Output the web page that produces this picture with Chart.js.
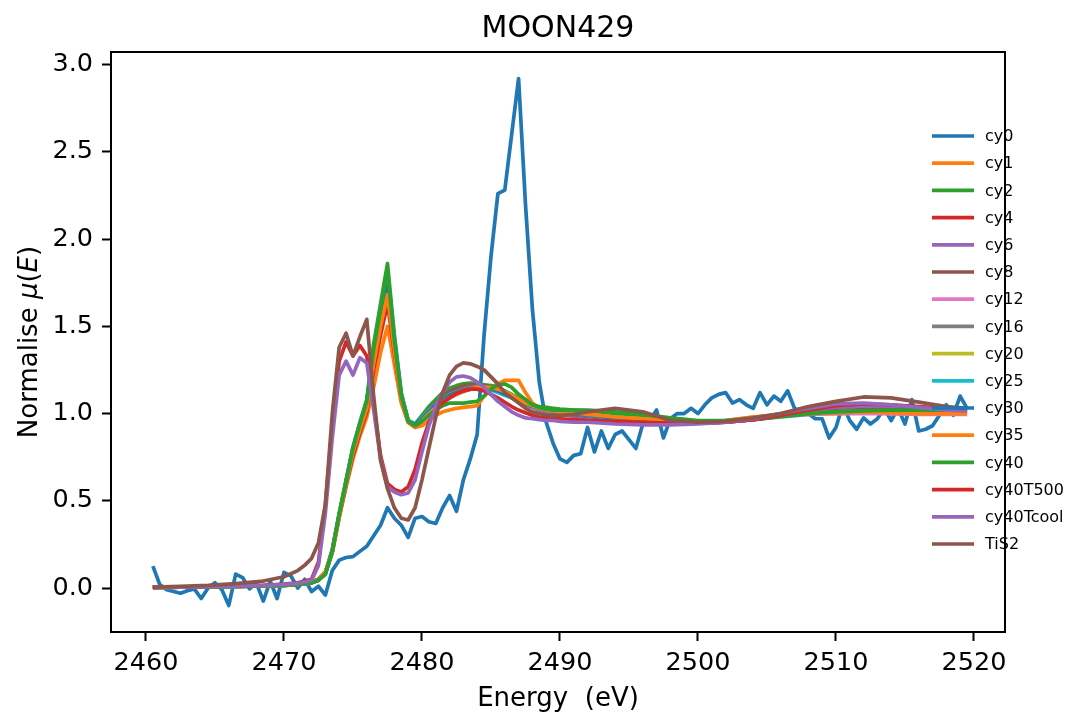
<!DOCTYPE html>
<html><head><meta charset="utf-8">
<script src="https://cdn.jsdelivr.net/npm/chart.js@4.4.1/dist/chart.umd.min.js"></script>
<style>html,body{margin:0;padding:0;background:#fff;} canvas{display:block;}</style>
</head><body>
<canvas id="c" width="1081" height="714"></canvas>
<script>
// ---------- DATA ----------
const chartTitle = 'MOON429';
const xAxisTitle = 'Energy  (eV)';
const xTickValues = [2460, 2470, 2480, 2490, 2500, 2510, 2520];
const yTickValues = [0.0, 0.5, 1.0, 1.5, 2.0, 2.5, 3.0];
const seriesNames = ['cy0','cy1','cy2','cy4','cy6','cy8','cy12','cy16','cy20','cy25','cy30','cy35','cy40','cy40T500','cy40Tcool','TiS2'];
const seriesColors = ['#1f77b4','#ff7f0e','#2ca02c','#d62728','#9467bd','#8c564b','#e377c2','#7f7f7f','#bcbd22','#17becf','#1f77b4','#ff7f0e','#2ca02c','#d62728','#9467bd','#8c564b'];

// fine energy grid (cy0)
const energyFine = [2460.5,2461,2461.5,2462,2462.5,2463,2463.5,2464,2464.5,2465,2465.5,2466,2466.5,2467,2467.5,2468,2468.5,2469,2469.5,2470,
2470.5,2471,2471.5,2472,2472.5,2473,2473.5,2474,2474.5,2475,2475.5,2476,2476.5,2477,2477.5,2478,2478.5,2479,2479.5,2480,
2480.5,2481,2481.5,2482,2482.5,2483,2483.5,2484,2484.5,2485,2485.5,2486,2486.5,2487,2487.5,2488,2488.5,2489,2489.5,2490,
2490.5,2491,2491.5,2492,2492.5,2493,2493.5,2494,2494.5,2495,2495.5,2496,2496.5,2497,2497.5,2498,2498.5,2499,2499.5,2500,
2500.5,2501,2501.5,2502,2502.5,2503,2503.5,2504,2504.5,2505,2505.5,2506,2506.5,2507,2507.5,2508,2508.5,2509,2509.5,2510,
2510.5,2511,2511.5,2512,2512.5,2513,2513.5,2514,2514.5,2515,2515.5,2516,2516.5,2517,2517.5,2518,2518.5,2519,2519.5];

// energy grid shared by the smooth spectra
const energySmooth = [2460.5,2462.5,2464.5,2466.5,2468.5,2470,2471,2471.5,2472,2472.5,2473,2473.5,2474,2474.5,2475,2475.5,2476,2476.5,2477,2477.5,
2478,2478.5,2479,2479.5,2480,2480.5,2481,2481.5,2482,2482.5,2483,2483.5,2484,2484.5,2485,2485.5,2486,2486.5,2487,2487.5,
2488,2488.5,2489,2489.5,2490,2491,2492,2494,2496,2498,2500,2502,2504,2506,2508,2510,2512,2514,2516,2518,2519.5];

const cy0 = [0.126,0.02,-0.01,-0.02,-0.03,-0.015,-0.005,-0.06,0.0,0.03,-0.01,-0.10,0.08,0.06,-0.005,0.03,-0.075,0.04,-0.06,0.09,
0.07,0.0,0.05,-0.02,0.01,-0.04,0.10,0.16,0.175,0.18,0.21,0.24,0.30,0.36,0.46,0.40,0.36,0.29,0.40,0.41,
0.38,0.37,0.46,0.53,0.44,0.62,0.74,0.88,1.45,1.90,2.26,2.28,2.60,2.92,2.20,1.60,1.18,0.95,0.83,0.74,
0.72,0.76,0.77,0.92,0.78,0.90,0.80,0.88,0.90,0.85,0.80,0.94,0.96,1.02,0.86,0.97,1.0,1.0,1.03,1.0,
1.05,1.09,1.11,1.12,1.06,1.08,1.05,1.03,1.12,1.05,1.10,1.07,1.13,1.03,1.0,1.0,0.97,0.97,0.86,0.92,
1.05,0.96,0.91,0.975,0.94,0.97,1.03,0.96,1.03,0.94,1.08,0.90,0.91,0.93,0.99,1.05,0.99,1.10,1.03];

const cy1 = [0.005,0.006,0.008,0.01,0.013,0.017,0.022,0.027,0.034,0.05,0.09,0.20,0.40,0.58,0.74,0.87,0.98,1.15,1.35,1.50,
1.28,1.06,0.95,0.92,0.93,0.96,0.99,1.01,1.02,1.03,1.035,1.04,1.045,1.10,1.15,1.17,1.19,1.19,1.19,1.12,
1.06,1.03,1.015,1.01,1.0,1.0,0.99,0.98,0.97,0.955,0.95,0.96,0.98,0.99,1.0,1.0,1.005,1.0,1.0,1.0,1.0];
const cy2 = [0.004,0.005,0.007,0.009,0.012,0.015,0.02,0.025,0.03,0.045,0.08,0.22,0.43,0.62,0.81,0.95,1.08,1.40,1.63,1.86,
1.45,1.12,0.96,0.94,0.99,1.04,1.08,1.12,1.145,1.16,1.17,1.175,1.17,1.165,1.16,1.15,1.13,1.11,1.09,1.07,
1.05,1.04,1.035,1.03,1.025,1.02,1.015,1.0,0.98,0.965,0.955,0.955,0.965,0.98,0.995,1.01,1.015,1.015,1.015,1.015,1.015];
const cy4 = [0.004,0.005,0.007,0.009,0.012,0.016,0.021,0.026,0.032,0.05,0.09,0.21,0.41,0.59,0.76,0.89,1.01,1.25,1.45,1.63,
1.35,1.08,0.95,0.925,0.96,1.0,1.04,1.07,1.09,1.11,1.13,1.14,1.15,1.155,1.15,1.14,1.12,1.10,1.08,1.06,
1.04,1.025,1.015,1.01,1.0,0.99,0.98,0.965,0.955,0.95,0.945,0.95,0.965,0.985,1.005,1.02,1.03,1.03,1.025,1.02,1.02];
const cy6 = [0.004,0.005,0.007,0.009,0.012,0.016,0.02,0.025,0.03,0.048,0.085,0.21,0.42,0.60,0.78,0.91,1.04,1.30,1.52,1.70,
1.38,1.09,0.955,0.93,0.97,1.02,1.06,1.09,1.12,1.14,1.155,1.16,1.16,1.155,1.145,1.13,1.11,1.09,1.07,1.05,
1.035,1.02,1.01,1.0,0.995,0.985,0.975,0.96,0.95,0.945,0.945,0.95,0.965,0.99,1.01,1.03,1.04,1.04,1.03,1.02,1.02];
const cy8 = [0.005,0.006,0.008,0.01,0.013,0.017,0.022,0.027,0.033,0.05,0.09,0.22,0.42,0.61,0.79,0.92,1.05,1.32,1.55,1.72,
1.40,1.10,0.96,0.935,0.975,1.02,1.06,1.10,1.125,1.145,1.16,1.165,1.165,1.16,1.15,1.135,1.115,1.095,1.075,1.055,
1.04,1.03,1.02,1.01,1.005,0.995,0.985,0.97,0.96,0.95,0.945,0.95,0.965,0.985,1.0,1.015,1.02,1.02,1.02,1.015,1.015];
const cy12 = [0.004,0.005,0.007,0.009,0.012,0.015,0.02,0.025,0.03,0.046,0.085,0.21,0.42,0.61,0.79,0.93,1.06,1.33,1.56,1.74,
1.41,1.10,0.955,0.935,0.97,1.01,1.05,1.08,1.105,1.12,1.135,1.145,1.15,1.15,1.145,1.135,1.12,1.10,1.08,1.06,
1.045,1.03,1.02,1.015,1.01,1.0,0.99,0.975,0.965,0.955,0.95,0.955,0.97,0.985,0.995,1.0,1.0,1.0,0.995,0.995,0.995];
const cy16 = [0.004,0.005,0.007,0.009,0.012,0.015,0.02,0.025,0.03,0.046,0.082,0.21,0.42,0.61,0.80,0.94,1.07,1.35,1.58,1.77,
1.42,1.11,0.96,0.935,0.975,1.02,1.055,1.085,1.11,1.125,1.14,1.15,1.155,1.15,1.145,1.13,1.115,1.095,1.075,1.055,
1.04,1.03,1.02,1.015,1.01,1.0,0.99,0.975,0.965,0.955,0.95,0.955,0.97,0.985,1.0,1.005,1.01,1.01,1.005,1.005,1.005];
const cy20 = [0.004,0.005,0.007,0.009,0.012,0.015,0.02,0.025,0.03,0.046,0.083,0.21,0.42,0.61,0.80,0.94,1.07,1.34,1.57,1.75,
1.41,1.10,0.955,0.93,0.97,1.01,1.05,1.08,1.10,1.12,1.135,1.145,1.15,1.15,1.14,1.13,1.11,1.09,1.075,1.055,
1.04,1.03,1.02,1.015,1.01,1.005,0.995,0.98,0.97,0.96,0.955,0.96,0.975,0.99,1.0,1.01,1.015,1.015,1.01,1.01,1.01];
const cy25 = [0.004,0.005,0.007,0.009,0.012,0.015,0.02,0.025,0.03,0.046,0.082,0.21,0.42,0.61,0.80,0.94,1.07,1.36,1.60,1.79,
1.43,1.11,0.96,0.935,0.975,1.015,1.05,1.08,1.105,1.12,1.13,1.14,1.145,1.14,1.135,1.12,1.105,1.09,1.07,1.055,
1.04,1.03,1.02,1.015,1.01,1.0,0.99,0.975,0.965,0.955,0.95,0.955,0.97,0.985,1.0,1.01,1.015,1.015,1.01,1.01,1.01];
const cy30 = [0.004,0.005,0.007,0.009,0.012,0.015,0.02,0.025,0.03,0.046,0.083,0.21,0.42,0.61,0.80,0.94,1.07,1.35,1.58,1.76,
1.42,1.10,0.955,0.935,0.97,1.01,1.05,1.08,1.105,1.12,1.135,1.145,1.15,1.145,1.14,1.13,1.11,1.095,1.075,1.055,
1.04,1.03,1.02,1.015,1.01,1.0,0.99,0.975,0.965,0.955,0.95,0.955,0.97,0.985,1.0,1.01,1.015,1.015,1.01,1.01,1.01];
const cy35 = [0.004,0.005,0.007,0.009,0.012,0.016,0.021,0.026,0.032,0.048,0.088,0.21,0.41,0.60,0.78,0.91,1.03,1.29,1.50,1.68,
1.37,1.08,0.95,0.925,0.96,1.0,1.035,1.065,1.09,1.11,1.125,1.14,1.15,1.15,1.15,1.14,1.125,1.105,1.085,1.06,
1.045,1.03,1.02,1.015,1.01,1.005,0.995,0.98,0.97,0.96,0.955,0.96,0.98,0.995,1.0,1.005,1.01,1.005,1.0,1.0,1.0];
const cy40 = [0.004,0.005,0.007,0.009,0.012,0.015,0.02,0.025,0.03,0.045,0.08,0.21,0.42,0.61,0.80,0.94,1.07,1.37,1.60,1.82,
1.42,1.10,0.955,0.93,0.955,0.99,1.02,1.045,1.06,1.06,1.06,1.065,1.07,1.10,1.14,1.165,1.17,1.15,1.11,1.08,
1.05,1.035,1.025,1.02,1.02,1.02,1.02,1.01,0.995,0.975,0.96,0.96,0.97,0.985,1.0,1.01,1.015,1.02,1.02,1.02,1.02];
const cy40T500 = [0.004,0.006,0.009,0.012,0.016,0.022,0.03,0.04,0.05,0.15,0.48,0.93,1.30,1.41,1.33,1.39,1.33,1.05,0.76,0.60,
0.565,0.55,0.58,0.68,0.83,0.95,1.02,1.06,1.09,1.115,1.13,1.14,1.14,1.13,1.11,1.09,1.065,1.04,1.02,1.005,
0.99,0.98,0.975,0.97,0.97,0.965,0.96,0.955,0.95,0.945,0.945,0.95,0.965,0.99,1.02,1.045,1.055,1.05,1.04,1.03,1.03];
const cy40Tcool = [0.004,0.005,0.008,0.011,0.015,0.02,0.027,0.035,0.045,0.13,0.43,0.86,1.22,1.30,1.22,1.32,1.29,1.02,0.74,0.58,
0.55,0.535,0.545,0.62,0.78,0.93,1.04,1.12,1.18,1.21,1.215,1.205,1.18,1.15,1.11,1.07,1.04,1.01,0.99,0.975,
0.97,0.965,0.96,0.96,0.955,0.95,0.95,0.94,0.935,0.935,0.94,0.95,0.97,1.0,1.03,1.055,1.06,1.05,1.035,1.02,1.015];
const TiS2 = [0.005,0.01,0.015,0.025,0.04,0.065,0.10,0.13,0.17,0.26,0.48,1.0,1.38,1.46,1.33,1.44,1.54,1.10,0.73,0.57,
0.46,0.40,0.39,0.46,0.62,0.80,0.98,1.12,1.22,1.27,1.29,1.285,1.27,1.25,1.21,1.17,1.12,1.09,1.06,1.03,
1.01,1.0,0.99,0.99,0.99,0.995,1.01,1.03,1.01,0.96,0.95,0.955,0.975,1.0,1.04,1.07,1.095,1.09,1.065,1.04,1.03];

const seriesValues = [cy0,cy1,cy2,cy4,cy6,cy8,cy12,cy16,cy20,cy25,cy30,cy35,cy40,cy40T500,cy40Tcool,TiS2];
const seriesEnergy = [energyFine].concat(new Array(15).fill(energySmooth));

// ---------- CHART ----------
const FONT = "'DejaVu Sans', 'Liberation Sans', sans-serif";
const N = seriesNames.length;
const LW = 3.7;
const datasets = seriesNames.map((name, i) => ({
  label: name,
  data: seriesValues[i].map((v, j) => ({x: seriesEnergy[i][j], y: v})),
  borderColor: seriesColors[i],
  backgroundColor: seriesColors[i],
  borderWidth: LW,
  borderJoinStyle: 'round',
  borderCapStyle: 'butt',
  pointRadius: 0,
  tension: 0,
  fill: false,
  order: N - i
}));

const decorPlugin = {
  id: 'decor',
  afterDraw(chart) {
    const ctx = chart.ctx;
    const a = chart.chartArea;
    ctx.save();
    // legend (no frame)
    ctx.font = '16px ' + FONT;
    ctx.textBaseline = 'middle';
    ctx.textAlign = 'left';
    for (let i = 0; i < N; i++) {
      const y = 136 + 27.2 * i;
      ctx.strokeStyle = seriesColors[i];
      ctx.lineWidth = LW;
      ctx.beginPath(); ctx.moveTo(932, y); ctx.lineTo(974, y); ctx.stroke();
      ctx.fillStyle = '#000';
      ctx.fillText(seriesNames[i], 985, y + 1);
    }
    // frame
    ctx.strokeStyle = '#000';
    ctx.lineWidth = 2;
    ctx.strokeRect(a.left, a.top, a.right - a.left, a.bottom - a.top);
    // title
    ctx.fillStyle = '#000';
    ctx.textAlign = 'center';
    ctx.textBaseline = 'alphabetic';
    ctx.font = '30px ' + FONT;
    ctx.fillText(chartTitle, (a.left + a.right) / 2, 37);
    // x title
    ctx.font = '26px ' + FONT;
    ctx.fillText(xAxisTitle, (a.left + a.right) / 2, 706);
    // y title with italic math
    const parts = [['Normalise ', ''], ['\u03bc', 'italic '], ['(', ''], ['E', 'italic '], [')', '']];
    let total = 0;
    const widths = parts.map(p => { ctx.font = p[1] + '26px ' + FONT; const w = ctx.measureText(p[0]).width; total += w; return w; });
    ctx.translate(37, (a.top + a.bottom) / 2);
    ctx.rotate(-Math.PI / 2);
    ctx.textAlign = 'left';
    let x = -total / 2;
    parts.forEach((p, i) => { ctx.font = p[1] + '26px ' + FONT; ctx.fillText(p[0], x, 0); x += widths[i]; });
    ctx.restore();
  }
};

new Chart(document.getElementById('c'), {
  type: 'line',
  data: { datasets },
  options: {
    responsive: false,
    devicePixelRatio: 1,
    animation: false,
    parsing: true,
    layout: { padding: { top: 52, right: 76, left: 0, bottom: 0 } },
    plugins: { legend: { display: false }, tooltip: { enabled: false }, title: { display: false } },
    scales: {
      x: {
        type: 'linear', min: 2457.464, max: 2522.25,
        afterBuildTicks: s => { s.ticks = xTickValues.map(v => ({ value: v })); },
        afterFit: s => { s.height = 82; },
        ticks: { font: { family: FONT, size: 25.5 }, color: '#000', padding: 7, maxRotation: 0, autoSkip: false,
                 callback: v => String(v) },
        grid: { drawOnChartArea: false, drawTicks: true, tickLength: 9, tickWidth: 2, tickColor: '#000' },
        border: { display: false }
      },
      y: {
        type: 'linear', min: -0.252, max: 3.072,
        afterBuildTicks: s => { s.ticks = yTickValues.map(v => ({ value: v })); },
        afterFit: s => { s.width = 111; },
        ticks: { font: { family: FONT, size: 25.5 }, color: '#000', padding: 9, autoSkip: false,
                 callback: v => Number(v).toFixed(1) },
        grid: { drawOnChartArea: false, drawTicks: true, tickLength: 9, tickWidth: 2, tickColor: '#000' },
        border: { display: false }
      }
    }
  },
  plugins: [decorPlugin]
});
</script></body></html>
